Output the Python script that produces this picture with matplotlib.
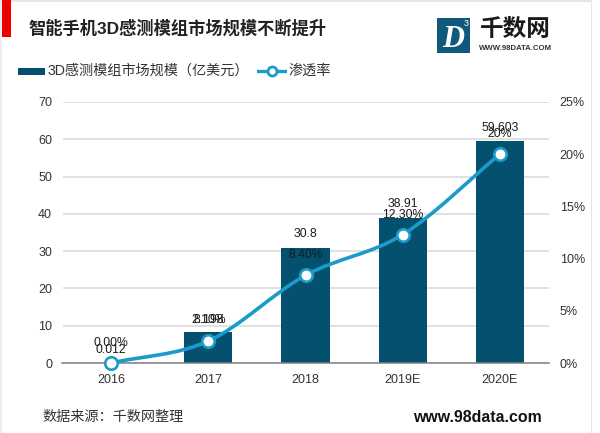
import numpy as np
import matplotlib
matplotlib.use("Agg")
import matplotlib.pyplot as plt
from matplotlib.path import Path
from matplotlib.patches import PathPatch, Rectangle

plt.rcParams['font.family'] = ['Liberation Sans', 'Noto Sans CJK SC', 'DejaVu Sans']

years = ['2016', '2017', '2018', '2019E', '2020E']
market = [0.012, 8.198, 30.8, 38.91, 59.603]
market_labels = ['0.012', '8.198', '30.8', '38.91', '59.603']
rate = [0.0, 2.10, 8.40, 12.30, 20.0]
rate_labels = ['0.00%', '2.10%', '8.40%', '12.30%', '20%']
left_ticks = [0, 10, 20, 30, 40, 50, 60, 70]
right_ticks = [0, 5, 10, 15, 20, 25]
bar_name = '3D感测模组市场规模（亿美元）'
line_name = '渗透率'
title = '智能手机3D感测模组市场规模不断提升'
source = '数据来源：千数网整理'
site = 'www.98data.com'

W, H = 600, 433
BAR = '#04506f'
LINE = '#1b9bc9'
TXT = '#333333'
fig = plt.figure(figsize=(W/100, H/100), dpi=100, facecolor='white')

def fx(p): return p / W
def fy(p): return 1 - p / H

ax = fig.add_axes([fx(62.5), fy(363), (548.5-62.5)/W, (363-102)/H])
ax.set_xlim(-0.5, 4.5)
ax.set_ylim(0, 70)
ax.set_axisbelow(True)
ax.yaxis.grid(True, color='#d9d9d9', lw=1.1)
ax.xaxis.grid(False)
for s in ['top', 'right', 'left']:
    ax.spines[s].set_visible(False)
ax.spines['bottom'].set_color('#808080')
ax.spines['bottom'].set_linewidth(1.1)
x = np.arange(len(years))
ax.bar(x, market, width=0.495, color=BAR, zorder=2)
ax.set_xticks(x, years)
ax.set_yticks(left_ticks)
ax.tick_params(axis='both', length=0, labelsize=9.0, labelcolor=TXT)
ax.tick_params(axis='x', pad=8.2)
ax.tick_params(axis='y', pad=7.5)

ax2 = ax.twinx()
ax2.set_ylim(0, 25)
ax2.set_yticks(right_ticks, [f'{t}%' for t in right_ticks])
ax2.tick_params(axis='y', length=0, labelsize=9.0, labelcolor=TXT, pad=8)
for s in ax2.spines.values():
    s.set_visible(False)

# smooth line through the data points (Bezier segments, as in the source chart)
r = np.array(rate, float)
slopes = np.gradient(r, x)
verts = [(x[0], r[0])]
codes = [Path.MOVETO]
for i in range(len(x) - 1):
    verts += [(x[i] + 1/3, r[i] + slopes[i]/3),
              (x[i+1] - 1/3, r[i+1] - slopes[i+1]/3),
              (x[i+1], r[i+1])]
    codes += [Path.CURVE4] * 3
ax2.add_patch(PathPatch(Path(verts, codes), fc='none', ec=LINE, lw=2.6, zorder=4,
                        capstyle='round', clip_on=False))
ax2.plot(x, rate, ls='none', marker='o', ms=9, mfc='white', mec=LINE, mew=1.9,
         zorder=5, clip_on=False)

# data labels: offsets in pixels, overlapping as in the reference
off_bar = [13, 12, 14, 14, 13]
off_rate = [20, 21, 20, 20, 20]
for i in range(len(x)):
    ax.annotate(market_labels[i], (x[i], market[i]), xytext=(0, off_bar[i]*0.72),
                textcoords='offset points', ha='center', va='center', fontsize=8.8,
                color='#1a1a1a', zorder=6, annotation_clip=False)
    ax2.annotate(rate_labels[i], (x[i], rate[i]), xytext=(0, off_rate[i]*0.72),
                 textcoords='offset points', ha='center', va='center', fontsize=8.8,
                 color='#1a1a1a', zorder=6, annotation_clip=False)

# frame
fig.add_artist(Rectangle((fx(0), 0), fx(2), 1, transform=fig.transFigure, fc='#eeeeee', ec='none'))
fig.add_artist(Rectangle((fx(591), 0), fx(1), 1, transform=fig.transFigure, fc='#e6e6e6', ec='none'))
fig.add_artist(Rectangle((0, fy(1.5)), fx(592), 1.5/H, transform=fig.transFigure, fc='#e6e6e6', ec='none'))

# title block
fig.add_artist(Rectangle((fx(2), fy(37)), fx(9), 37/H, transform=fig.transFigure, fc='#ee0000', ec='none'))
fig.text(fx(28), fy(28), title, fontsize=12.4, fontweight='bold', color='#222222', va='center', ha='left')

# legend
fig.add_artist(Rectangle((fx(18), fy(74.5)), fx(27), 7/H, transform=fig.transFigure, fc=BAR, ec='none'))
fig.text(fx(48), fy(71), bar_name, fontsize=10.2, color=TXT, va='center', ha='left')
leg = fig.add_axes([fx(257), fy(78), 30/W, 14/H])
leg.axis('off'); leg.set_xlim(0, 1); leg.set_ylim(0, 1)
leg.plot([0, 1], [0.5, 0.5], color=LINE, lw=2.4)
leg.plot([0.5], [0.5], marker='o', ms=6.5, mfc='white', mec=LINE, mew=2)
fig.text(fx(288), fy(71), line_name, fontsize=10.2, color=TXT, va='center', ha='left')

# logo
fig.add_artist(Rectangle((fx(437), fy(53)), fx(33), 35/H, transform=fig.transFigure, fc='#0f5a7c', ec='none'))
fig.text(fx(453), fy(39.5), 'D', fontsize=22, fontweight='bold', style='italic', family='Liberation Serif',
         color='white', ha='center', va='center')
fig.text(fx(466), fy(24), '3', fontsize=6.5, color='white', ha='center', va='center')
fig.text(fx(515), fy(30), '千数网', fontsize=17, fontweight='bold', color='#1a1a1a', ha='center', va='center')
fig.text(fx(515), fy(48), 'WWW.98DATA.COM', fontsize=5.6, fontweight='bold', color='#333333', ha='center', va='center')

# footer
fig.text(fx(42), fy(417), source, fontsize=10.2, color=TXT, va='center', ha='left')
fig.text(fx(413), fy(417), site, fontsize=11.4, fontweight='bold', color='#111111', va='center', ha='left')

fig.savefig('out.png', dpi=100)
